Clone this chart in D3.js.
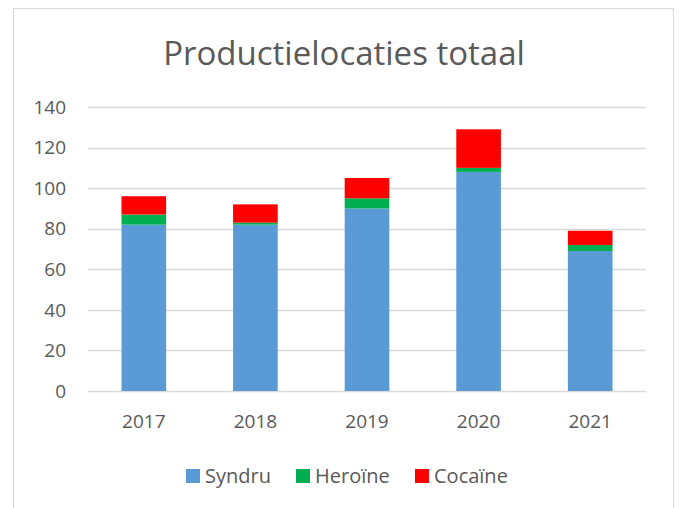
<!DOCTYPE html>
<html><head><meta charset="utf-8">
<script src="https://cdn.jsdelivr.net/npm/d3@7"></script>
<style>body{margin:0;background:#fff}svg{display:block}</style>
</head><body>
<script>
const years = ["2017","2018","2019","2020","2021"];
const syndru = [82, 82, 90, 108, 69];
const heroine = [5, 1, 5, 2, 3];
const cocaine = [9, 9, 10, 19, 7];
const seriesNames = ["Syndru","Heroïne","Cocaïne"];
const seriesColors = ["#5B9BD5","#00B050","#FF0000"];
const yTicks = [0,20,40,60,80,100,120,140];
const title = "Productielocaties totaal";

const W = 679, H = 508;
const font = "'Open Sans', 'Noto Sans', sans-serif";
const svg = d3.select("body").append("svg").attr("width", W).attr("height", H);

svg.append("rect").attr("x", 13.5).attr("y", 8.5).attr("width", 660).attr("height", 510)
  .attr("fill", "#fff").attr("stroke", "#D9D9D9").attr("stroke-width", 1);

const table = years.map((y, i) => ({year: y, Syndru: syndru[i], "Heroïne": heroine[i], "Cocaïne": cocaine[i]}));
const stack = d3.stack().keys(seriesNames)(table);

const x = d3.scaleBand().domain(years).range([88, 646]).paddingInner(0.6).paddingOuter(0.3);
const y = d3.scaleLinear().domain([0, 140]).range([391, 107]);

// gridlines
svg.append("g").selectAll("line").data(yTicks).join("line")
  .attr("x1", 88).attr("x2", 646)
  .attr("y1", d => Math.round(y(d)) + 0.5).attr("y2", d => Math.round(y(d)) + 0.5)
  .attr("stroke", "#D9D9D9").attr("stroke-width", 1.3);

// y labels
svg.append("g").selectAll("text").data(yTicks).join("text")
  .attr("x", 66).attr("y", d => y(d)).attr("dy", "0.35em")
  .attr("text-anchor", "end").attr("font-family", font).attr("font-size", 19)
  .attr("fill", "#595959").text(d => d);

// bars
svg.append("g").selectAll("g").data(stack).join("g")
  .attr("fill", (d, i) => seriesColors[i])
  .selectAll("rect").data(d => d).join("rect")
  .attr("x", d => x(d.data.year)).attr("width", x.bandwidth())
  .attr("y", d => y(d[1])).attr("height", d => y(d[0]) - y(d[1]));

// x labels
svg.append("g").selectAll("text").data(years).join("text")
  .attr("x", d => x(d) + x.bandwidth() / 2).attr("y", 421).attr("dy", "0.35em")
  .attr("text-anchor", "middle").attr("font-family", font).attr("font-size", 19)
  .attr("fill", "#595959").text(d => d);

// title
svg.append("text").attr("x", 344).attr("y", 53).attr("dy", "0.35em")
  .attr("text-anchor", "middle").attr("font-family", font).attr("font-size", 33)
  .attr("fill", "#595959").text(title);

// legend
const legendX = [186, 296, 415];
const lg = svg.append("g").selectAll("g").data(seriesNames).join("g")
  .attr("transform", (d, i) => `translate(${legendX[i]},476)`);
lg.append("rect").attr("x", 0).attr("y", -7).attr("width", 14).attr("height", 14)
  .attr("fill", (d, i) => seriesColors[i]);
lg.append("text").attr("x", 19).attr("y", 0).attr("dy", "0.35em")
  .attr("font-family", font).attr("font-size", 20).attr("fill", "#595959").text(d => d);
</script>
</body></html>
